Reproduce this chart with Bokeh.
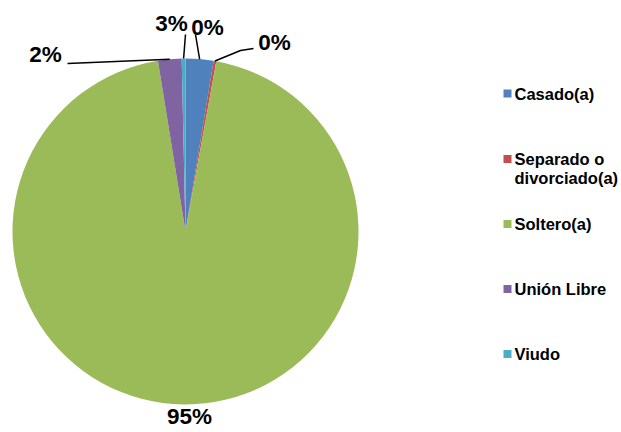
import math
from bokeh.plotting import figure
from bokeh.models import Range1d, ColumnDataSource
from bokeh.core.properties import value
from bokeh.embed import file_html
from bokeh.resources import INLINE

categories = ["Casado(a)", "Separado o\ndivorciado(a)", "Soltero(a)", "Unión Libre", "Viudo"]
values = [2.6, 0.25, 94.6, 2.2, 0.35]
colors = ["#4F81BD", "#C0504D", "#9BBB59", "#8064A2", "#4BACC6"]

W, H = 621, 432
p = figure(width=W, height=H, output_backend="svg", toolbar_location=None,
           x_range=Range1d(0, W), y_range=Range1d(0, H),
           min_border=0, outline_line_color=None)
p.axis.visible = False
p.grid.visible = False
p.background_fill_color = "white"

def py(y):  # page y -> data y
    return H - y

cx, cy, r = 185, py(231), 173
total = sum(values)
starts, ends, mids = [], [], []
acc = 0.0
for v in values:
    a0 = math.pi / 2 - 2 * math.pi * acc / total
    acc += v
    a1 = math.pi / 2 - 2 * math.pi * acc / total
    starts.append(a0)
    ends.append(a1)
    mids.append((a0 + a1) / 2)

src = ColumnDataSource(dict(start=starts, end=ends, color=colors))
p.wedge(x=cx, y=cy, radius=r, start_angle="start", end_angle="end", direction="clock",
        fill_color="color", line_color=None, source=src)

def arc_pt(a, rr=r):
    return cx + rr * math.cos(a), cy + rr * math.sin(a)

labels = [f"{round(v)}%" for v in values]
font = value("Liberation Sans")
# label positions (page coords) and leader-line start points
lab_pos = {0: (171, 23), 1: (274, 42), 2: (189, 416), 3: (45, 54), 4: (207, 27)}
lead = {0: [(185, 34)], 1: [(253, 48), (240, 50)], 3: [(67, 63)], 4: [(195, 34)]}
# leader targets: label 0 line goes to Viudo mid, label 4 line to Casado mid (as in reference)
target = {0: 4, 1: 1, 3: 3, 4: 0}

for i, (lx, ly) in lab_pos.items():
    p.text(x=[lx], y=[py(ly)], text=[labels[i]], text_font=font, text_font_style="bold",
           text_font_size="22.5px", text_align="center", text_baseline="middle", text_color="black")
for i, pts in lead.items():
    tx, ty = arc_pt(mids[target[i]])
    xs = [x for x, _ in pts] + [tx]
    ys = [py(y) for _, y in pts] + [ty]
    p.line(xs, ys, line_color="black", line_width=1.5)

# legend
leg_y = [93, 158.5, 223.5, 288.5, 353.5]
for name, col, ly in zip(categories, colors, leg_y):
    p.rect(x=[507], y=[py(ly)], width=8, height=8, fill_color=col, line_color=None)
    lines = name.split("\n")
    for k, t in enumerate(lines):
        p.text(x=[514], y=[py(ly + k * 19)], text=[t], text_font=font, text_font_style="bold",
               text_font_size="16.5px", text_align="left", text_baseline="middle", text_color="black")

open("out.html", "w").write(file_html(p, INLINE))
